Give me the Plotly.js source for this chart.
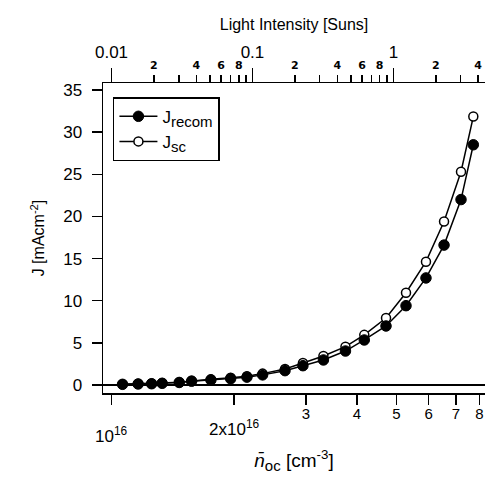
<!DOCTYPE html>
<html>
<head>
<meta charset="utf-8">
<script src="https://cdn.plot.ly/plotly-3.0.1.min.js"></script>
<style>html,body{margin:0;padding:0;background:#fff;}</style>
</head>
<body>
<div id="chart" style="width:485px;height:479px;"></div>
<script>
// mean open-circuit carrier density (cm^-3)
const nOc = [1.064e16, 1.162e16, 1.254e16, 1.331e16, 1.466e16, 1.572e16, 1.753e16, 1.960e16,
             2.149e16, 2.348e16, 2.665e16, 2.949e16, 3.311e16, 3.750e16, 4.171e16, 4.716e16,
             5.280e16, 5.911e16, 6.546e16, 7.205e16, 7.724e16];
// J_recom (mA cm^-2), filled circles
const jRecom = [0.08, 0.12, 0.15, 0.2, 0.3, 0.45, 0.6, 0.75, 0.93, 1.2, 1.7, 2.29, 2.97, 4.03,
                5.34, 7.0, 9.41, 12.7, 16.6, 22.0, 28.5];
// J_sc (mA cm^-2), open circles
const jSc = [0.1, 0.14, 0.18, 0.23, 0.34, 0.5, 0.67, 0.85, 1.05, 1.35, 1.9, 2.6, 3.44, 4.55,
             5.95, 7.95, 10.95, 14.63, 19.4, 25.3, 31.85];

// axis ticks
const yTicks = [0, 5, 10, 15, 20, 25, 30, 35];
const nTickVals = [1e16, 2e16, 3e16, 4e16, 5e16, 6e16, 7e16, 8e16];
const nLabelVals = [3e16, 4e16, 5e16, 6e16, 7e16, 8e16];
const nLabelText = ['3', '4', '5', '6', '7', '8'];
const sunsMajorVals = [0.01, 0.1, 1];
const sunsMajorText = ['0.01', '0.1', '1'];
const sunsMinorVals = [0.02, 0.03, 0.04, 0.05, 0.06, 0.07, 0.08, 0.09,
                       0.2, 0.3, 0.4, 0.5, 0.6, 0.7, 0.8, 0.9, 2, 3, 4];
const sunsMinorLabelVals = [0.02, 0.04, 0.06, 0.08, 0.2, 0.4, 0.6, 0.8, 2, 4];
const sunsMinorLabelText = ['2', '4', '6', '8', '2', '4', '6', '8', '2', '4'];
const sunsRange = [0.0087, 4.47];

const FONT = 'Liberation Sans, Arial, sans-serif';
const big = s => '<span style="font-size:15px">' + s + '</span>';

const traces = [
  {
    x: nOc, y: jSc, type: 'scatter', mode: 'lines+markers',
    name: 'J<sub>' + big('sc') + '</sub>', legendrank: 2,
    line: {color: 'black', width: 1.5},
    marker: {symbol: 'circle', size: 9, color: 'white', line: {color: 'black', width: 1.5}},
    xaxis: 'x', yaxis: 'y'
  },
  {
    x: nOc, y: jRecom, type: 'scatter', mode: 'lines+markers',
    name: 'J<sub>' + big('recom') + '</sub>', legendrank: 1,
    line: {color: 'black', width: 1.5},
    marker: {symbol: 'circle', size: 10.5, color: 'black', line: {color: 'black', width: 1}},
    xaxis: 'x', yaxis: 'y'
  }
];
['x2', 'x3', 'x4', 'x5'].forEach(ax => traces.push({
  x: ax === 'x5' ? [nOc[0], nOc[nOc.length - 1]] : sunsRange, y: [0, 0],
  type: 'scatter', mode: 'none', showlegend: false, hoverinfo: 'skip', xaxis: ax, yaxis: 'y'
}));

const logR = [Math.log10(sunsRange[0]), Math.log10(sunsRange[1])];
const nRange = [15.979, 16.9165];

const baseTop = {
  type: 'log', range: logR, overlaying: 'x', side: 'top', anchor: 'y',
  tickmode: 'array', ticks: 'outside', tickwidth: 1.5, tickcolor: 'black',
  showgrid: false, zeroline: false, automargin: false
};

const layout = {
  width: 485, height: 479,
  margin: {l: 103, r: 0, t: 83, b: 86, pad: 0},
  paper_bgcolor: 'white', plot_bgcolor: 'white',
  font: {family: FONT, size: 16, color: 'black'},
  showlegend: true,
  legend: {
    x: 0.026, y: 0.954, xanchor: 'left', yanchor: 'top',
    bgcolor: 'white', bordercolor: 'black', borderwidth: 1.5,
    font: {family: FONT, size: 17, color: 'black'},
    tracegroupgap: 0, itemwidth: 38, traceorder: 'normal'
  },
  xaxis: {
    type: 'log', range: nRange,
    tickmode: 'array', tickvals: nTickVals, showticklabels: false,
    ticks: 'outside', ticklen: 10, tickwidth: 1.5, tickcolor: 'black',
    showline: true, linewidth: 1.5, linecolor: 'black', mirror: false,
    showgrid: false, zeroline: false,
    title: {text: '<i>n̄</i><sub>' + big('oc') + '</sub> [cm<sup>-3</sup>]', font: {family: FONT, size: 19}, standoff: 50},
    automargin: false
  },
  xaxis5: {
    type: 'log', range: nRange, overlaying: 'x', side: 'bottom', anchor: 'y',
    tickmode: 'array', tickvals: nLabelVals, ticktext: nLabelText,
    ticks: 'outside', ticklen: 6, tickwidth: 1.5, tickcolor: 'black',
    showline: false, showgrid: false, zeroline: false,
    tickfont: {family: FONT, size: 15}, ticklabelstandoff: 1,
    automargin: false
  },
  xaxis2: Object.assign({}, baseTop, {
    tickvals: sunsMajorVals, ticktext: sunsMajorText, ticklen: 14,
    showline: true, linewidth: 1.5, linecolor: 'black',
    tickfont: {family: FONT, size: 17}, ticklabelstandoff: 3,
    title: {text: 'Light Intensity [Suns]', font: {family: FONT, size: 16}, standoff: 8}
  }),
  xaxis3: Object.assign({}, baseTop, {
    tickvals: sunsMinorVals, showticklabels: false, ticklen: 7, showline: false
  }),
  xaxis4: Object.assign({}, baseTop, {
    tickvals: sunsMinorLabelVals, ticktext: sunsMinorLabelText, ticklen: 7, showline: false,
    tickfont: {family: 'DejaVu Sans, sans-serif', size: 11, weight: 'bold'},
    ticklabelstandoff: 2
  }),
  yaxis: {
    range: [-0.95, 35.83],
    tickmode: 'array', tickvals: yTicks,
    ticks: 'outside', ticklen: 10, tickwidth: 1.5, tickcolor: 'black',
    showline: true, linewidth: 1.5, linecolor: 'black',
    showgrid: false, zeroline: true, zerolinecolor: 'black', zerolinewidth: 1.5,
    tickfont: {family: FONT, size: 17},
    ticklabelstandoff: 6,
    title: {text: 'J [mAcm<sup>-2</sup>]', font: {family: FONT, size: 16}, standoff: 14},
    automargin: false
  }
};

// tick labels for 10^16 and 2x10^16 (staggered in the original)
const bigLabels = [
  {val: 1e16, text: '10<sup>16</sup>', top: 422},
  {val: 2e16, text: '2x10<sup>16</sup>', top: 415}
];
layout.annotations = bigLabels.map(b => ({
  x: Math.log10(b.val), xref: 'x',
  y: 1 - (b.top - 83) / 310, yref: 'paper', yanchor: 'top', xanchor: 'center',
  text: b.text, showarrow: false,
  font: {family: FONT, size: 17, color: 'black'}
}));

// fold Plotly's zero-width baseline-reset tspans into the text that follows them
function foldResets() {
  document.querySelectorAll('#chart tspan').forEach(t => {
    if (t.children.length) return;
    let len = 1;
    try { len = t.getComputedTextLength(); } catch (e) { len = 1; }
    if (len > 0.01) return;
    if (!t.nextSibling) { t.remove(); return; }
    while (t.nextSibling) t.appendChild(t.nextSibling);
  });
}

const gd = document.getElementById('chart');
Plotly.newPlot(gd, traces, layout, {displayModeBar: false, staticPlot: true}).then(() => {
  foldResets();
  gd.on('plotly_afterplot', foldResets);
  setTimeout(foldResets, 50);
  setTimeout(foldResets, 300);
});
</script>
</body>
</html>
